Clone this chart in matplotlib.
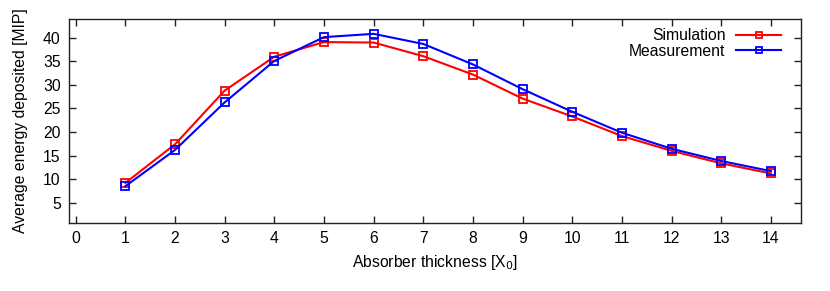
import matplotlib
matplotlib.use("Agg")
import matplotlib.pyplot as plt

thickness = [1, 2, 3, 4, 5, 6, 7, 8, 9, 10, 11, 12, 13, 14]
simulation = [9.2, 17.4, 28.8, 36.0, 39.1, 39.0, 36.1, 32.2, 27.1, 23.3, 19.15, 16.0, 13.35, 11.2]
measurement = [8.5, 16.2, 26.3, 35.1, 40.15, 40.85, 38.7, 34.35, 29.1, 24.3, 19.85, 16.45, 13.85, 11.7]
xticks = list(range(0, 15))
yticks = [5, 10, 15, 20, 25, 30, 35, 40]

plt.rcParams['font.family'] = ['Liberation Sans', 'DejaVu Sans']
fs = 11.3
fig = plt.figure(figsize=(8.3, 2.91), dpi=100)
ax = fig.add_axes([69/830, 1-222.7/291, (800.7-69)/830, (222.7-19)/291])

ax.plot(thickness, simulation, color='#ff0000', lw=1.5, marker='s', ms=6.2,
        mfc='none', mec='#ff0000', mew=1.3, label='Simulation')
ax.plot(thickness, measurement, color='#0000ff', lw=1.5, marker='s', ms=6.2,
        mfc='none', mec='#0000ff', mew=1.3, label='Measurement')

ax.set_xlim(-0.135, 14.6)
ax.set_ylim(0.75, 44)
ax.set_xticks(xticks)
ax.set_yticks(yticks)
ax.tick_params(direction='in', length=5, width=1, top=True, right=True,
               labelsize=fs, colors='#222222', pad=6)
ax.tick_params(axis='x', labelcolor='black')
ax.tick_params(axis='y', labelcolor='black')
for s in ax.spines.values():
    s.set_linewidth(1)
    s.set_color('#222222')

ax.set_xlabel('Absorber thickness [X$_0$]', fontsize=fs, labelpad=5)
ax.set_ylabel('Average energy deposited [MIP]', fontsize=fs, labelpad=11)

ax.legend(loc='upper right', bbox_to_anchor=(1 - 9/731.7, 1 + 1/203.7),
          markerfirst=False, frameon=False, fontsize=fs,
          handlelength=2.93, handletextpad=0.64, labelspacing=0.05,
          borderaxespad=0.25, markerscale=0.75)

fig.savefig('out.png', dpi=100)
